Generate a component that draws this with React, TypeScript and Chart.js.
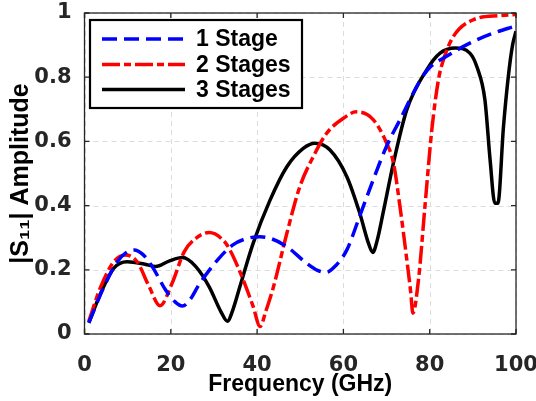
import React, { useEffect, useRef } from "react";
import { Chart, registerables } from "chart.js";

Chart.register(...registerables);

const seriesLabels = ["1 Stage", "2 Stages", "3 Stages"];

const freq1 = [1, 4.5, 7.6, 9.5, 11.5, 13.5, 15.7, 18.8, 21, 22.7, 24.5, 26.5, 30.8, 34.3, 37.5, 40.7, 43.5, 46.9, 51.5, 54, 56, 58, 60.8, 63.8, 66.9, 70, 73.1, 77.8, 80, 83.9, 89.3, 94.7, 100];
const amp1 = [0.035, 0.147, 0.225, 0.252, 0.262, 0.248, 0.21, 0.137, 0.1, 0.087, 0.108, 0.153, 0.23, 0.277, 0.297, 0.303, 0.296, 0.272, 0.22, 0.198, 0.192, 0.21, 0.262, 0.368, 0.48, 0.585, 0.667, 0.79, 0.83, 0.865, 0.906, 0.937, 0.96];

const freq2 = [1, 3.75, 6.8, 9.5, 12.2, 15, 17.5, 20.3, 23.1, 25.8, 28.9, 32.3, 33.7, 36.8, 39.1, 40.7, 42, 43.8, 46.9, 49.9, 53, 56.1, 60, 63, 66.9, 70, 71.6, 73.1, 74.7, 75.6, 76.1, 77.4, 78.9, 80.5, 82, 83.2, 85.5, 90.1, 96.3, 100];
const amp2 = [0.04, 0.147, 0.225, 0.246, 0.225, 0.147, 0.088, 0.158, 0.256, 0.298, 0.316, 0.29, 0.262, 0.168, 0.085, 0.023, 0.07, 0.147, 0.314, 0.459, 0.552, 0.625, 0.672, 0.692, 0.668, 0.595, 0.533, 0.398, 0.231, 0.13, 0.065, 0.169, 0.398, 0.637, 0.79, 0.855, 0.927, 0.979, 0.992, 0.995];

const freq3 = [1, 3.75, 6.8, 9.9, 13.8, 16.5, 19.6, 22.7, 25.8, 28.9, 31.6, 33.1, 34.5, 36, 39.1, 43, 46.9, 50.7, 53.4, 56.9, 60.8, 63.8, 65.8, 66.8, 67.8, 69.2, 71.6, 74.7, 79.3, 82.4, 85.9, 89.3, 91, 92.8, 94, 95.1, 95.8, 97.1, 98.2, 99.2, 100];
const amp3 = [0.035, 0.127, 0.205, 0.225, 0.218, 0.21, 0.227, 0.238, 0.21, 0.147, 0.07, 0.04, 0.08, 0.147, 0.283, 0.417, 0.521, 0.578, 0.594, 0.573, 0.49, 0.376, 0.283, 0.254, 0.29, 0.377, 0.533, 0.699, 0.823, 0.875, 0.891, 0.875, 0.83, 0.729, 0.542, 0.407, 0.407, 0.646, 0.8, 0.9, 0.943];

const xTicks = [0, 20, 40, 60, 80, 100];
const yTicks = [0, 0.2, 0.4, 0.6, 0.8, 1];
const yTickLabels = ["0", "0.2", "0.4", "0.6", "0.8", "1"];
const xTitle = "Frequency (GHz)";
const yTitle = "|S₁₁| Amplitude";

const colors = ["#0000ff", "#ff0000", "#000000"];
const dashes: number[][] = [[15, 7], [18, 4, 7, 4], []];

function toPoints(xs: number[], ys: number[]) {
  return xs.map((x, i) => ({ x, y: ys[i] }));
}

const gridPlugin = {
  id: "gridPlugin",
  beforeDatasetsDraw(chart: any) {
    const { ctx, chartArea } = chart;
    const { left, right, top, bottom } = chartArea;
    const xs = chart.scales.x;
    const ys = chart.scales.y;
    ctx.save();
    ctx.strokeStyle = "#dcdcdc";
    ctx.lineWidth = 1;
    ctx.setLineDash([5, 4]);
    ctx.beginPath();
    xTicks.forEach((v) => {
      const px = Math.round(xs.getPixelForValue(v)) + 0.5;
      ctx.moveTo(px, top);
      ctx.lineTo(px, bottom);
    });
    yTicks.forEach((v) => {
      const py = Math.round(ys.getPixelForValue(v)) + 0.5;
      ctx.moveTo(left, py);
      ctx.lineTo(right, py);
    });
    ctx.stroke();
    ctx.restore();
  },
};

const boxPlugin = {
  id: "boxPlugin",
  afterDraw(chart: any) {
    const { ctx, chartArea } = chart;
    const { left, right, top, bottom } = chartArea;
    const xs = chart.scales.x;
    const ys = chart.scales.y;
    ctx.save();
    ctx.strokeStyle = "#262626";
    ctx.lineWidth = 1.3;
    ctx.setLineDash([]);
    ctx.strokeRect(left, top, right - left, bottom - top);
    const tl = 5;
    ctx.beginPath();
    xTicks.forEach((v) => {
      const px = xs.getPixelForValue(v);
      ctx.moveTo(px, bottom);
      ctx.lineTo(px, bottom - tl);
      ctx.moveTo(px, top);
      ctx.lineTo(px, top + tl);
    });
    yTicks.forEach((v) => {
      const py = ys.getPixelForValue(v);
      ctx.moveTo(left, py);
      ctx.lineTo(left + tl, py);
      ctx.moveTo(right, py);
      ctx.lineTo(right - tl, py);
    });
    ctx.stroke();

    // legend
    const lx = 90, ly = 20, lw = 212, lh = 88;
    ctx.fillStyle = "#ffffff";
    ctx.fillRect(lx, ly, lw, lh);
    ctx.strokeStyle = "#000000";
    ctx.lineWidth = 2.2;
    ctx.strokeRect(lx, ly, lw, lh);
    const rows = [39, 64.5, 89.5];
    ctx.font = "bold 23px 'Liberation Sans', Arial, sans-serif";
    ctx.textBaseline = "middle";
    ctx.textAlign = "left";
    seriesLabels.forEach((lab, i) => {
      ctx.strokeStyle = colors[i];
      ctx.lineWidth = 3.5;
      ctx.setLineDash(dashes[i]);
      ctx.beginPath();
      ctx.moveTo(102, rows[i]);
      ctx.lineTo(185, rows[i]);
      ctx.stroke();
      ctx.setLineDash([]);
      ctx.fillStyle = "#000000";
      ctx.fillText(lab, 196, rows[i] + 1);
    });
    ctx.restore();
  },
};

export default function App() {
  const ref = useRef<HTMLCanvasElement | null>(null);
  useEffect(() => {
    if (!ref.current) return;
    const data = {
      datasets: [
        { label: seriesLabels[0], data: toPoints(freq1, amp1) },
        { label: seriesLabels[1], data: toPoints(freq2, amp2) },
        { label: seriesLabels[2], data: toPoints(freq3, amp3) },
      ].map((d, i) => ({
        ...d,
        borderColor: colors[i],
        backgroundColor: colors[i],
        borderWidth: 3.5,
        borderDash: dashes[i],
        pointRadius: 0,
        fill: false,
        cubicInterpolationMode: "monotone" as const,
      })),
    };
    const tickFont = { family: "'DejaVu Sans', sans-serif", size: 21, weight: "bold" as const };
    const titleFont = { family: "'Liberation Sans', Arial, sans-serif", size: 23, weight: "bold" as const };
    const yTitleFont = { family: "'Liberation Sans', Arial, sans-serif", size: 25, weight: "bold" as const };
    const chart = new Chart(ref.current, {
      type: "line",
      data,
      plugins: [gridPlugin, boxPlugin],
      options: {
        animation: false,
        responsive: false,
        layout: { padding: { top: 13, right: 20, left: 0, bottom: 0 } },
        plugins: { legend: { display: false }, tooltip: { enabled: false } },
        scales: {
          x: {
            type: "linear",
            min: 0,
            max: 100,
            afterBuildTicks: (s: any) => {
              s.ticks = xTicks.map((v) => ({ value: v }));
            },
            afterFit: (s: any) => {
              s.height = 67;
              s.paddingLeft = 0;
              s.paddingRight = 0;
            },
            ticks: { color: "#262626", font: tickFont, padding: 11, maxRotation: 0 },
            grid: { display: false },
            border: { display: false },
            title: { display: true, text: xTitle, color: "#000000", font: titleFont, padding: { top: 0, bottom: 3 } },
          },
          y: {
            type: "linear",
            min: 0,
            max: 1,
            afterBuildTicks: (s: any) => {
              s.ticks = yTicks.map((v) => ({ value: v }));
            },
            afterFit: (s: any) => {
              s.width = 84.5;
              s.paddingTop = 0;
              s.paddingBottom = 0;
            },
            ticks: {
              color: "#262626",
              font: tickFont,
              padding: 5,
              callback: (v: any) => {
                const i = yTicks.findIndex((t) => Math.abs(t - Number(v)) < 1e-6);
                return i >= 0 ? yTickLabels[i] : "";
              },
            },
            grid: { display: false },
            border: { display: false },
            title: { display: true, text: yTitle, color: "#000000", font: yTitleFont, padding: { top: 6, bottom: 0 } },
          },
        },
      },
    });
    return () => chart.destroy();
  }, []);
  return (
    <div style={{ position: "fixed", left: 0, top: 0, width: 536, height: 401, background: "#ffffff" }}>
      <canvas ref={ref} width={536} height={401} style={{ display: "block" }} />
    </div>
  );
}
